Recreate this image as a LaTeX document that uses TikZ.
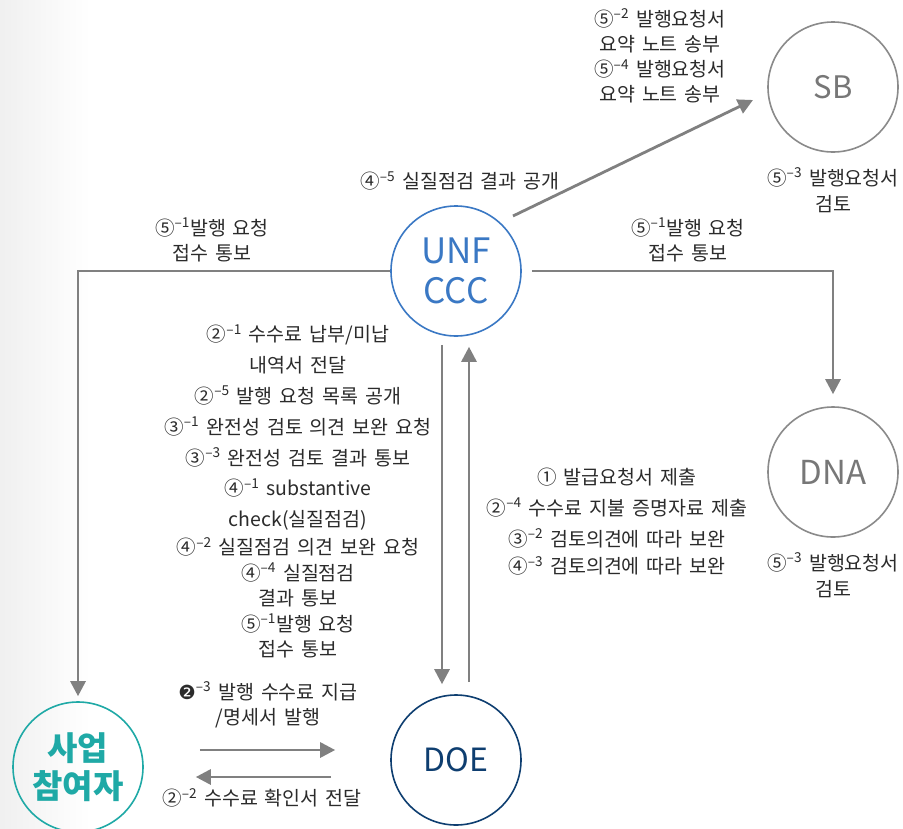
\documentclass[tikz,border=0pt]{standalone}
\usepackage{fontspec}
\setmainfont{Noto Sans CJK KR}[WordSpace=1.6]
\newfontfamily\djv{DejaVu Sans}
\usetikzlibrary{arrows.meta}
\definecolor{unfc}{HTML}{3A78C4}
\definecolor{doec}{HTML}{0E3E70}
\definecolor{partc}{HTML}{1FA9A6}
\definecolor{sbc}{HTML}{8A8A8A}
\definecolor{sbt}{HTML}{777777}
\definecolor{arrc}{HTML}{808080}
\definecolor{txtc}{HTML}{2B2B2B}
\newcommand\sm[1]{\textsuperscript{–#1}}
\tikzset{
  ent/.style={circle, draw, line width=1.6pt, minimum size=130pt, inner sep=0pt, align=center},
  flow/.style={draw=arrc, line width=2.8pt, -{Triangle[length=15pt,width=15pt]}},
  lbl/.style={text=txtc, align=center, inner sep=0pt},
}
\begin{document}
\begin{tikzpicture}[x=1pt,y=-1pt]
\useasboundingbox (0,0) rectangle (903,828);
\fill[white] (0,0) rectangle (903,828);
\fill[left color=black!6, right color=white] (0,0) rectangle (90,828);

% entities
\node[ent, draw=unfc, text=unfc, font=\fontsize{35}{40}\selectfont] (unf) at (456,271) {UNF\\CCC};
\node[ent, draw=sbc, text=sbt, font=\fontsize{31}{36}\selectfont] (sb) at (833,87) {SB};
\node[ent, draw=sbc, text=sbt, font=\fontsize{33}{36}\selectfont] (dna) at (833,472) {DNA};
\node[ent, draw=doec, text=doec, font=\fontsize{32}{38}\selectfont] (doe) at (456,760) {DOE};
\node[ent, draw=partc, text=partc, font=\bfseries\fontsize{33}{38}\selectfont] (pp) at (78,767) {사업\\참여자};

% connectors
\draw[flow] ([shift={(57,-55)}]unf.center) -- ([shift={(-80,13)}]sb.center);
\draw[flow, shorten >=12pt] ([xshift=10pt]unf.east) -| (dna.north);
\draw[flow, shorten >=5pt] (unf.west) -| (pp.north);
\draw[flow] ([shift={(-14,8)}]unf.south) -- ([shift={(-14,-10)}]doe.north);
\draw[flow] ([shift={(13,-12)}]doe.north) -- ([shift={(13,10)}]unf.south);
\draw[flow] ([shift={(56,-17)}]pp.east) -- ([shift={(-55,-10)}]doe.west);
\draw[flow] ([shift={(-59,17)}]doe.west) -- ([shift={(52,10)}]pp.east);

% labels
\node[lbl, font=\fontsize{19.5}{25.3}\selectfont] (t1) at (660,56) {⑤\sm2 발행요청서\\요약 노트 송부\\⑤\sm4 발행요청서\\요약 노트 송부};
\node[lbl, font=\fontsize{19.5}{26}\selectfont] (t2) at (460,181) {④\sm5 실질점검 결과 공개};
\node[lbl, font=\fontsize{19.5}{26}\selectfont] (t3) at (833,190) {⑤\sm3 발행요청서\\검토};
\node[lbl, font=\fontsize{19.5}{25}\selectfont] (t4) at (212,240) {⑤\sm1발행 요청\\접수 통보};
\node[lbl, font=\fontsize{19.5}{25}\selectfont] (t5) at (688,240) {⑤\sm1발행 요청\\접수 통보};
\node[lbl, font=\fontsize{19.5}{30.8}\selectfont] (t6) at (298,427.5) {②\sm1 수수료 납부/미납\\내역서 전달\\②\sm5 발행 요청 목록 공개\\③\sm1 완전성 검토 의견 보완 요청\\③\sm3 완전성 검토 결과 통보\\④\sm1 substantive\\check(실질점검)};
\node[lbl, font=\fontsize{19.5}{25.5}\selectfont] (t7) at (298,598) {④\sm2 실질점검 의견 보완 요청\\④\sm4 실질점검\\결과 통보\\⑤\sm1발행 요청\\접수 통보};
\node[lbl, font=\fontsize{19.5}{31}\selectfont] (t8) at (617,508) {① 발급요청서 제출\\②\sm4 수수료 지불 증명자료 제출\\③\sm2 검토의견에 따라 보완};
\node[lbl, font=\fontsize{19.5}{26}\selectfont] (t9) at (617,566) {④\sm3 검토의견에 따라 보완};
\node[lbl, font=\fontsize{19.5}{26}\selectfont] (t10) at (833,575) {⑤\sm3 발행요청서\\검토};
\node[lbl, font=\fontsize{19.5}{25}\selectfont] (t11) at (268,705) {{\djv ❷}\sm3 발행 수수료 지급\\/명세서 발행};
\node[lbl, font=\fontsize{19.5}{26}\selectfont] (t12) at (262,798) {②\sm2 수수료 확인서 전달};
\end{tikzpicture}
\end{document}
